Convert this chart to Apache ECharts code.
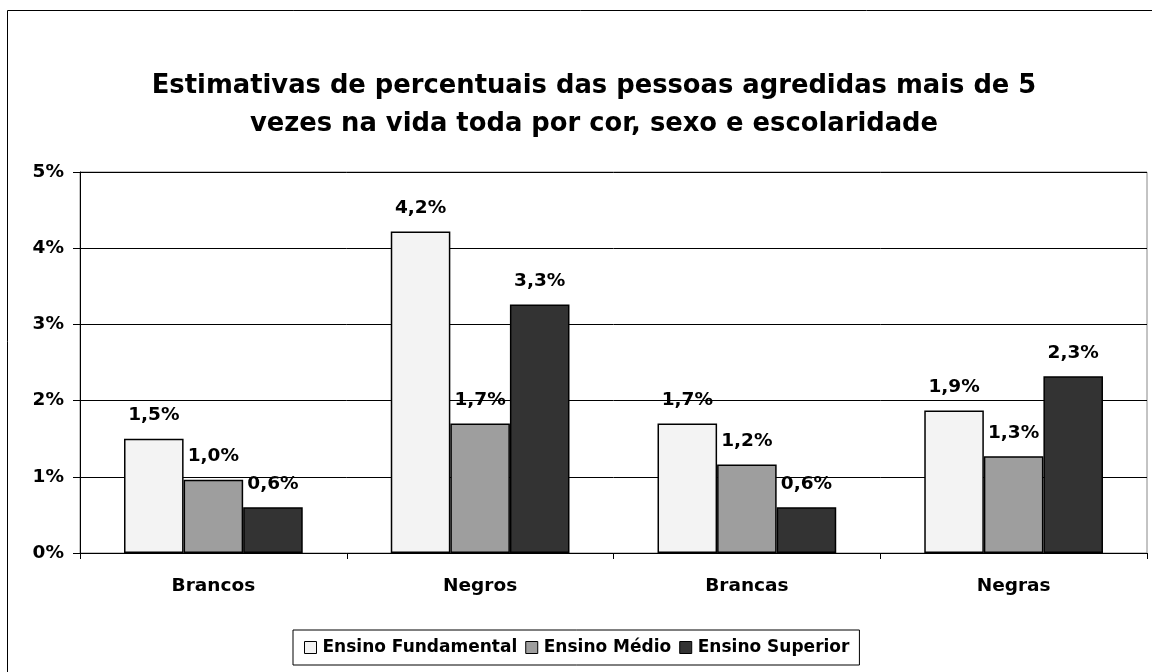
<!DOCTYPE html>
<html>
<head>
<meta charset="utf-8">
<script src="https://cdn.jsdelivr.net/npm/echarts@6/dist/echarts.min.js"></script>
<style>
  html, body { margin: 0; padding: 0; background: #fff; }
  #chart { width: 1152px; height: 672px; }
</style>
</head>
<body>
<div id="chart"></div>
<script>
// dados
const categorias = ['Brancos', 'Negros', 'Brancas', 'Negras'];
const fundamental = [1.5, 4.22, 1.7, 1.87];
const medio = [0.96, 1.7, 1.16, 1.27];
const superior = [0.6, 3.26, 0.6, 2.32];
const yTicks = [0, 1, 2, 3, 4, 5];

const fonte = 'DejaVu Sans, Arial, sans-serif';

function pct(v) {
  return v.toFixed(1).replace('.', ',') + '%';
}

function serie(nome, dados, cor) {
  return {
    name: nome,
    type: 'bar',
    data: dados,
    barGap: '0%',
    barCategoryGap: '33%',
    itemStyle: { color: cor, borderColor: '#000', borderWidth: 1.5 },
    label: {
      show: true,
      position: 'top',
      distance: 14,
      fontFamily: fonte,
      fontWeight: 'bold',
      fontSize: 18.5,
      color: '#000',
      formatter: p => pct(p.value)
    }
  };
}

const chart = echarts.init(document.getElementById('chart'));

chart.setOption({
  animation: false,
  title: {
    text: 'Estimativas de percentuais das pessoas agredidas mais de 5\nvezes na vida toda por cor, sexo e escolaridade',
    left: 589,
    textAlign: 'center',
    top: 62,
    textStyle: {
      fontFamily: fonte,
      fontWeight: 'bold',
      fontSize: 25.8,
      lineHeight: 38,
      color: '#000'
    }
  },
  graphic: [{
    type: 'rect',
    shape: { x: 7.5, y: 10.5, width: 1200, height: 700 },
    style: { fill: 'none', stroke: '#000', lineWidth: 1 },
    silent: true
  }],
  legend: {
    top: 630,
    left: 293,
    data: ['Ensino Fundamental', 'Ensino Médio', 'Ensino Superior'],
    icon: 'rect',
    itemWidth: 12,
    itemHeight: 12,
    itemGap: 8,
    padding: [9, 10, 9, 11],
    borderColor: '#000',
    borderWidth: 1,
    itemStyle: { borderColor: '#000', borderWidth: 1 },
    textStyle: { fontFamily: fonte, fontWeight: 'bold', fontSize: 17, color: '#000', padding: [0, 0, 0, 1] }
  },
  grid: {
    left: 80,
    right: 5,
    top: 172,
    bottom: 119,
    show: true,
    borderColor: '#888',
    borderWidth: 1
  },
  xAxis: {
    type: 'category',
    data: categorias,
    axisLine: { lineStyle: { color: '#000', width: 1 } },
    axisTick: { show: true, length: 6, inside: false, lineStyle: { color: '#000' } },
    axisLabel: {
      margin: 24,
      fontFamily: fonte,
      fontWeight: 'bold',
      fontSize: 18.5,
      color: '#000'
    }
  },
  yAxis: {
    type: 'value',
    min: yTicks[0],
    max: yTicks[yTicks.length - 1],
    interval: 1,
    axisLine: { show: true, lineStyle: { color: '#000', width: 1 } },
    axisTick: { show: true, length: 7, lineStyle: { color: '#000' } },
    axisLabel: {
      margin: 16,
      fontFamily: fonte,
      fontWeight: 'bold',
      fontSize: 18.5,
      color: '#000',
      formatter: v => v + '%'
    },
    splitLine: { show: true, lineStyle: { color: '#000', width: 1 } }
  },
  series: [
    serie('Ensino Fundamental', fundamental, '#f3f3f3'),
    serie('Ensino Médio', medio, '#9e9e9e'),
    serie('Ensino Superior', superior, '#333333')
  ]
});
</script>
</body>
</html>
